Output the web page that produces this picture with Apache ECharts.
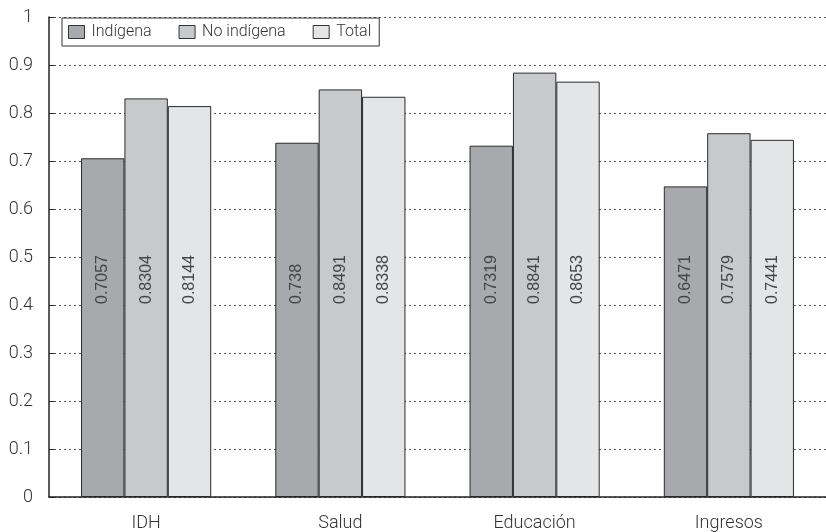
<!DOCTYPE html>
<html>
<head>
<meta charset="utf-8">
<script src="https://cdn.jsdelivr.net/npm/echarts@6/dist/echarts.min.js"></script>
<style>
html,body{margin:0;padding:0;background:#fff;}
#chart{width:826px;height:532px;}
</style>
</head>
<body>
<div id="chart"></div>
<script>
const categories = ['IDH', 'Salud', 'Educación', 'Ingresos'];
const seriesNames = ['Indígena', 'No indígena', 'Total'];
const indigena = [0.7057, 0.738, 0.7319, 0.6471];
const noIndigena = [0.8304, 0.8491, 0.8841, 0.7579];
const total = [0.8144, 0.8338, 0.8653, 0.7441];
const yTicks = [0, 0.1, 0.2, 0.3, 0.4, 0.5, 0.6, 0.7, 0.8, 0.9, 1];

const colors = ['#a8a9ac', '#c8c9cb', '#e4e5e7'];
const uiFont = 'Roboto';

const chart = echarts.init(document.getElementById('chart'), null, {renderer: 'canvas'});

function makeSeries(name, data, color) {
  return {
    name: name,
    type: 'bar',
    data: data,
    barGap: '0%',
    barCategoryGap: '33%',
    itemStyle: {color: color, borderColor: '#2a2a2a', borderWidth: 1},
    label: {
      show: true,
      position: 'insideBottom',
      distance: 193,
      rotate: 90,
      align: 'left',
      verticalAlign: 'middle',
      fontFamily: 'Liberation Sans',
      fontSize: 16,
      color: '#444',
      formatter: p => String(p.value)
    },
    emphasis: {disabled: true},
    silent: true
  };
}

chart.setOption({
  animation: false,
  backgroundColor: '#fff',
  grid: {left: 49, top: 17, width: 780, height: 481, containLabel: false},
  legend: {
    data: seriesNames,
    left: 62,
    top: 18,
    orient: 'horizontal',
    backgroundColor: '#fff',
    borderColor: '#333',
    borderWidth: 1,
    padding: [6, 8, 6, 6],
    itemWidth: 16,
    itemHeight: 13,
    itemGap: 27,
    icon: 'rect',
    itemStyle: {borderColor: '#333', borderWidth: 1},
    textStyle: {fontFamily: uiFont, fontWeight: 300, fontSize: 16, color: '#333', padding: [0, 0, 0, 2]},
    selectedMode: false
  },
  xAxis: {
    type: 'category',
    data: categories,
    axisLine: {lineStyle: {color: '#222', width: 1.5}},
    axisTick: {show: false},
    axisLabel: {fontFamily: uiFont, fontWeight: 300, fontSize: 18, color: '#333', margin: 17},
    splitLine: {show: false}
  },
  yAxis: {
    type: 'value',
    min: 0,
    max: 1,
    interval: 0.1,
    axisLine: {show: true, lineStyle: {color: '#222', width: 1.5}},
    axisTick: {show: true, inside: true, length: 5, lineStyle: {color: '#222'}},
    axisLabel: {
      fontFamily: uiFont, fontWeight: 300, fontSize: 18, color: '#333', margin: 16,
      formatter: v => {
        const t = yTicks.find(x => Math.abs(x - v) < 1e-9);
        return t === undefined ? '' : String(t);
      }
    },
    splitLine: {show: true, lineStyle: {color: '#555', width: 1, type: [2, 3]}}
  },
  series: [
    makeSeries(seriesNames[0], indigena, colors[0]),
    makeSeries(seriesNames[1], noIndigena, colors[1]),
    makeSeries(seriesNames[2], total, colors[2])
  ]
});
</script>
</body>
</html>
